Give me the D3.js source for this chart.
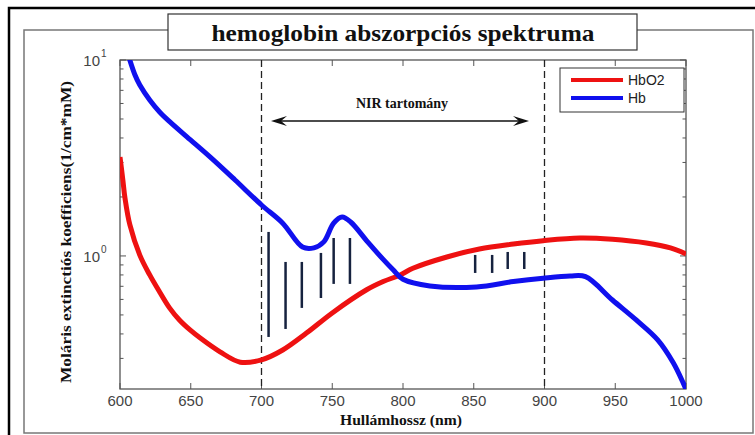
<!DOCTYPE html>
<html lang="en">
<head>
<meta charset="UTF-8">
<title>hemoglobin abszorpciós spektruma</title>
<script src="https://d3js.org/d3.v7.min.js"></script>
<style>
  body { margin: 0; background: #fff; }
  .tick-label { font: 15px "Liberation Sans", Arial, sans-serif; fill: #444; }
  .serif-bold { font-family: "Liberation Serif", "Times New Roman", serif; font-weight: bold; fill: #111; }
</style>
</head>
<body>
<script>
// HbO2 (oxigenált hemoglobin)
const hbo2Wl = [600, 602, 603.5, 607, 614, 621, 628, 635, 642, 649.5, 656.5, 670.7, 685, 700, 715, 732, 750, 774, 786, 798, 807, 831, 854, 878, 899, 925, 948, 972, 989, 1000];
const hbo2   = [3.2, 2.45, 1.98, 1.44, 1.01, 0.80, 0.655, 0.543, 0.471, 0.419, 0.382, 0.324, 0.287, 0.295, 0.331, 0.405, 0.512, 0.67, 0.74, 0.80, 0.865, 0.988, 1.085, 1.15, 1.197, 1.235, 1.217, 1.165, 1.1, 1.024];

// Hb (dezoxi hemoglobin)
const hbWl = [606, 610.6, 614, 621, 628, 635.3, 647.3, 663.6, 681.3, 700, 715, 729, 737, 744, 751, 757, 763, 775, 786, 793, 800, 819, 852, 878, 899, 918, 929, 948, 965, 980, 991, 998, 1001];
const hb   = [10.5, 8.38, 7.45, 6.25, 5.43, 4.83, 4.05, 3.2, 2.44, 1.82, 1.47, 1.11, 1.1, 1.18, 1.47, 1.58, 1.49, 1.18, 0.96, 0.85, 0.76, 0.703, 0.695, 0.74, 0.77, 0.79, 0.784, 0.596, 0.47, 0.373, 0.285, 0.225, 0.2];

// függőleges jelölő szakaszok
const segWl = [705, 717, 728.5, 742, 751, 762.5, 851, 863, 874, 885.7];
const segLo = [0.386, 0.424, 0.543, 0.61, 0.72, 0.72, 0.819, 0.819, 0.858, 0.858];
const segHi = [1.326, 0.932, 0.932, 1.036, 1.235, 1.235, 1.012, 1.012, 1.048, 1.048];

const xTicks = [600, 650, 700, 750, 800, 850, 900, 950, 1000];
const yMajor = [1, 10];
const yMinor = [0.3, 0.4, 0.5, 0.6, 0.7, 0.8, 0.9, 2, 3, 4, 5, 6, 7, 8, 9];
const nirBounds = [700, 900];

const width = 755, height = 435;
const svg = d3.select("body").append("svg")
    .attr("width", width).attr("height", height);

// keretek
svg.append("rect").attr("x", 24).attr("y", 30).attr("width", 729).attr("height", 403)
    .attr("fill", "none").attr("stroke", "#777").attr("stroke-width", 1.5);
svg.append("path").attr("d", "M9,440 L9,8 L760,8")
    .attr("fill", "none").attr("stroke", "#000").attr("stroke-width", 2.5);

const x = d3.scaleLinear().domain([600, 1000]).range([120, 686]);
const y = d3.scaleLog().domain([0.2094, 10]).range([389, 60]);
const [x0, x1] = x.range();
const [yb, yt] = y.range();

svg.append("defs").append("clipPath").attr("id", "clip")
    .append("rect").attr("x", x0).attr("y", yt).attr("width", x1 - x0).attr("height", yb - yt);

// tengelyek és osztások
const axisColor = "#555";
const g = svg.append("g");
xTicks.forEach(t => {
    g.append("line").attr("x1", x(t)).attr("x2", x(t)).attr("y1", yb).attr("y2", yb - 6)
        .attr("stroke", axisColor);
    g.append("line").attr("x1", x(t)).attr("x2", x(t)).attr("y1", yt).attr("y2", yt + 6)
        .attr("stroke", axisColor);
    g.append("text").attr("class", "tick-label").attr("x", x(t)).attr("y", 406)
        .attr("text-anchor", "middle").text(t);
});
yMajor.concat(yMinor).forEach(t => {
    const len = yMajor.includes(t) ? 6 : 3.5;
    g.append("line").attr("x1", x0).attr("x2", x0 + len).attr("y1", y(t)).attr("y2", y(t))
        .attr("stroke", axisColor);
    g.append("line").attr("x1", x1).attr("x2", x1 - len).attr("y1", y(t)).attr("y2", y(t))
        .attr("stroke", axisColor);
});
yMajor.forEach(t => {
    g.append("text").attr("class", "tick-label")
        .attr("x", x0 - 20).attr("y", y(t) + 6).attr("text-anchor", "end").text("10");
    g.append("text").attr("class", "tick-label").style("font-size", "10px")
        .attr("x", x0 - 19).attr("y", y(t) - 3).text(Math.round(Math.log10(t)));
});
g.append("rect").attr("x", x0).attr("y", yt).attr("width", x1 - x0).attr("height", yb - yt)
    .attr("fill", "none").attr("stroke", axisColor).attr("stroke-width", 1.3);

// NIR határok
nirBounds.forEach(w => {
    svg.append("line").attr("x1", x(w)).attr("x2", x(w)).attr("y1", yt).attr("y2", yb)
        .attr("stroke", "#222").attr("stroke-width", 1.3).attr("stroke-dasharray", "7,4");
});

// görbék
const line = d3.line().curve(d3.curveCatmullRom.alpha(0.5));
const plot = svg.append("g").attr("clip-path", "url(#clip)");
plot.append("path")
    .attr("d", line(hbo2Wl.map((w, i) => [x(w), y(hbo2[i])])))
    .attr("fill", "none").attr("stroke", "#ee1111").attr("stroke-width", 5);
plot.append("path")
    .attr("d", line(hbWl.map((w, i) => [x(w), y(hb[i])])))
    .attr("fill", "none").attr("stroke", "#1010ee").attr("stroke-width", 5);

// jelölő szakaszok
segWl.forEach((w, i) => {
    svg.append("line").attr("x1", x(w)).attr("x2", x(w))
        .attr("y1", y(segHi[i])).attr("y2", y(segLo[i]))
        .attr("stroke", "#16223f").attr("stroke-width", 2.5);
});

// NIR nyíl
const ay = 121, ax0 = 271, ax1 = 529;
svg.append("line").attr("x1", ax0 + 6).attr("x2", ax1 - 6).attr("y1", ay).attr("y2", ay)
    .attr("stroke", "#111").attr("stroke-width", 1.5);
svg.append("path")
    .attr("d", `M${ax0},${ay} L${ax0 + 16},${ay - 5} L${ax0 + 10},${ay} L${ax0 + 16},${ay + 5} Z`)
    .attr("fill", "#111");
svg.append("path")
    .attr("d", `M${ax1},${ay} L${ax1 - 16},${ay - 5} L${ax1 - 10},${ay} L${ax1 - 16},${ay + 5} Z`)
    .attr("fill", "#111");
svg.append("text").attr("class", "serif-bold").style("font-size", "14px")
    .attr("x", 402).attr("y", 108).attr("text-anchor", "middle").text("NIR tartomány");

// jelmagyarázat
const leg = svg.append("g");
leg.append("rect").attr("x", 560).attr("y", 68).attr("width", 124).attr("height", 44)
    .attr("fill", "#fff").attr("stroke", "#333").attr("stroke-width", 1);
[["HbO2", "#ee1111", 80], ["Hb", "#1010ee", 98]].forEach(([name, col, ly]) => {
    leg.append("line").attr("x1", 571).attr("x2", 623).attr("y1", ly).attr("y2", ly)
        .attr("stroke", col).attr("stroke-width", 4);
    leg.append("text").attr("class", "tick-label").style("fill", "#222").style("font-size", "14px")
        .attr("x", 628).attr("y", ly + 5).text(name);
});

// cím
svg.append("rect").attr("x", 168).attr("y", 14).attr("width", 469).attr("height", 36)
    .attr("fill", "#fff").attr("stroke", "#333").attr("stroke-width", 1.2);
svg.append("text").attr("class", "serif-bold").style("font-size", "24px")
    .attr("x", 403).attr("y", 41).attr("text-anchor", "middle")
    .attr("textLength", 383).attr("lengthAdjust", "spacingAndGlyphs")
    .text("hemoglobin abszorpciós spektruma");

// tengelyfeliratok
svg.append("text").attr("class", "serif-bold").style("font-size", "14px")
    .attr("x", 401).attr("y", 425).attr("text-anchor", "middle")
    .attr("textLength", 122).attr("lengthAdjust", "spacingAndGlyphs")
    .text("Hullámhossz (nm)");
svg.append("text").attr("class", "serif-bold").style("font-size", "15px")
    .attr("transform", "translate(71,232) rotate(-90)").attr("text-anchor", "middle")
    .attr("textLength", 302).attr("lengthAdjust", "spacingAndGlyphs")
    .text("Moláris extinctiós koefficiens(1/cm*mM)");
</script>
</body>
</html>
